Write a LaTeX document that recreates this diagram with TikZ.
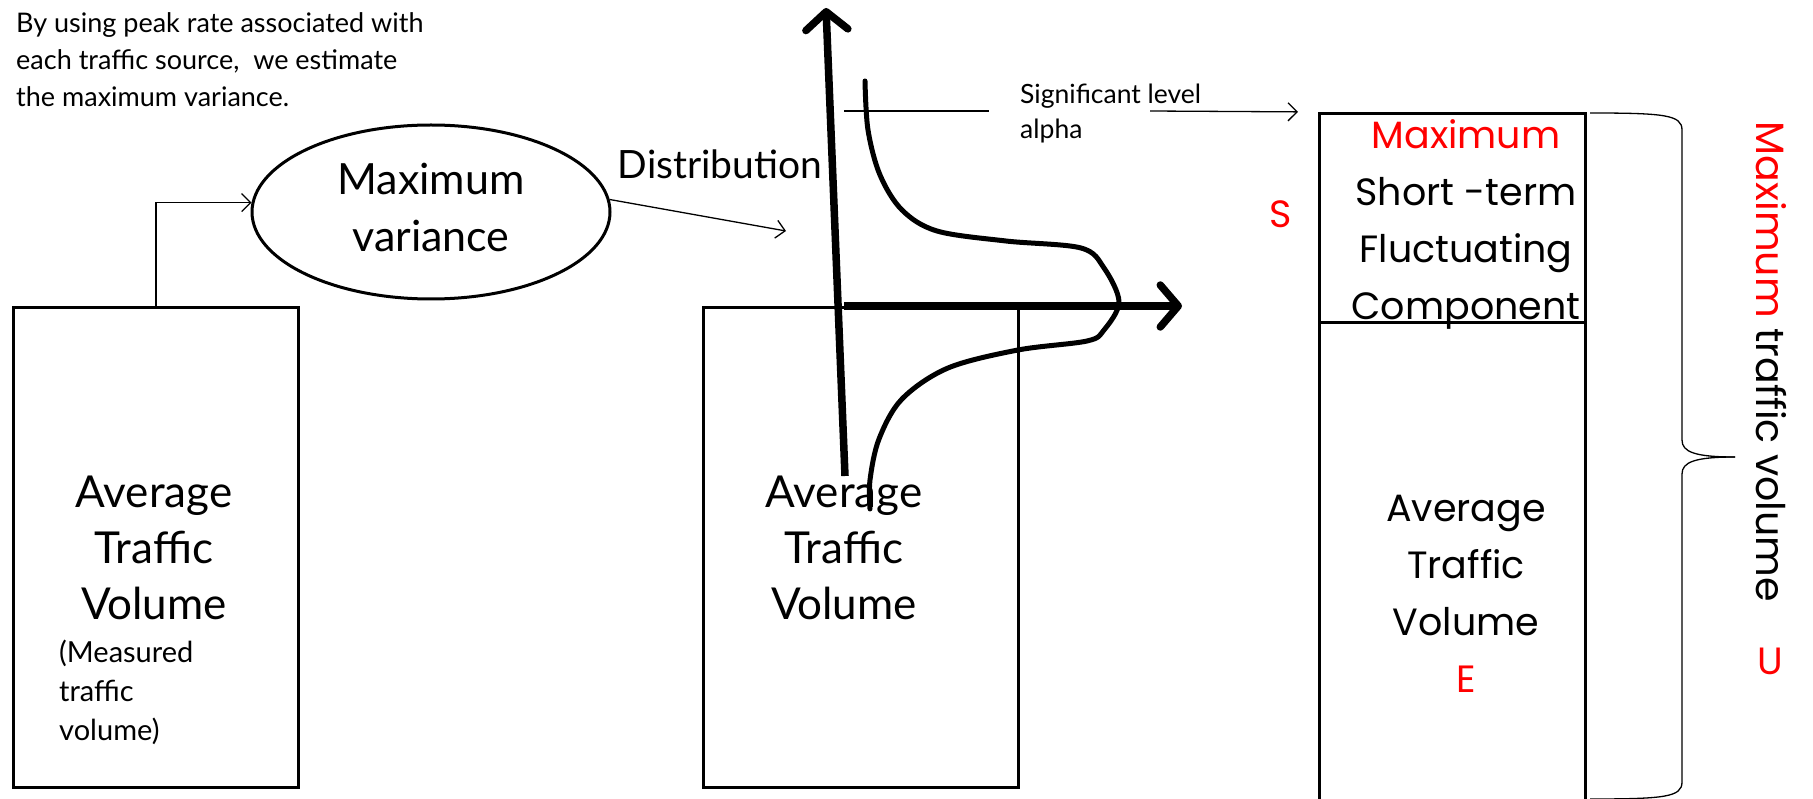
\documentclass[tikz,border=0pt]{standalone}
\usepackage{fontspec}
\setmainfont{Lato}
\newfontfamily\geofont{Poppins}
\usetikzlibrary{arrows.meta,shapes.geometric}
\definecolor{redtxt}{RGB}{255,0,0}
\tikzset{
  box/.style={draw, line width=3pt, anchor=north west, inner sep=0pt},
  bigtxt/.style={font=\fontsize{43}{57}\selectfont, align=center, inner sep=0pt},
  boxtxt/.style={font=\fontsize{44}{56}\selectfont, align=center, inner sep=0pt},
  disttxt/.style={font=\fontsize{39}{44}\selectfont, inner sep=0pt},
  notetxt/.style={font=\fontsize{27}{37}\selectfont, align=left, inner sep=0pt},
  sigtxt/.style={font=\fontsize{26.5}{35}\selectfont, align=left, inner sep=0pt},
  meastxt/.style={font=\fontsize{29}{39}\selectfont, align=left, inner sep=0pt},
  geotxt/.style={font=\geofont\fontsize{38}{57}\selectfont, align=center, inner sep=0pt},
  vtxt/.style={font=\geofont\fontsize{39.5}{57}\selectfont, inner sep=0pt},
  thinarrow/.style={line width=1.3pt, -{Straight Barb[length=9pt,width=18pt]}},
  thinline/.style={line width=1.3pt},
  axis/.style={line width=7.5pt, -{Straight Barb[length=18pt,width=42pt,round]}},
  curvestyle/.style={line width=5pt, line cap=round, line join=round},
}
\begin{document}
\begin{tikzpicture}[x=1pt,y=-1pt]
\useasboundingbox (0,0) rectangle (1813,799);
% top note
\node[notetxt, anchor=north west] (note) at (16,12) {By using peak rate associated with\\each traffic source,\ \ we estimate\\the maximum variance.};
% left box
\node[box, minimum width=285pt, minimum height=480pt] (avg1) at (12,306) {};
\node[boxtxt] (avg1t) at (154,548) {Average\\Traffic\\Volume};
\node[meastxt, anchor=north west] (meas) at (59,640) {(Measured\\traffic\\volume)};
% ellipse
\node[draw, ellipse, line width=3pt, minimum width=358pt, minimum height=174pt] (var) at (431,212) {};
\node[bigtxt] (vart) at (431,207) {Maximum\\variance};
\draw[thinarrow] (avg1.north) |- (var.177);
% distribution
\coordinate (distend) at (786,231);
\draw[thinarrow] (var.4) -- (distend);
\node[disttxt] (dist) at (720,164) {Distribution};
% middle box
\node[box, minimum width=315pt, minimum height=480pt] (avg2) at (702,306) {};
\node[boxtxt] (avg2t) at (844,548) {Average\\Traffic\\Volume};
% axes
\coordinate (vbot) at (845,476);
\coordinate (vtop) at (826,8);
\coordinate (horig) at (844,306);
\coordinate (hend) at (1182,306);
\draw[axis] (vbot) -- (vtop);
\draw[axis] (horig) -- (hend);
% distribution curve
\draw[curvestyle] plot[smooth, tension=0.55] coordinates {(865,81) (868,130) (880,175) (902,210) (937,231) (1006,241) (1081,248) (1104,268) (1119,302) (1104,330) (1087,341) (1018,350) (948,368) (902,399) (879,439) (870,480) (870,509)};
% significant level
\coordinate (sigA) at (844,111);
\coordinate (sigB) at (989,111);
\draw[thinline] (sigA) -- (sigB);
\node[sigtxt, anchor=north west] (sig) at (1020,84) {Significant level\\alpha};
\coordinate (sigC) at (1150,111);
% right boxes
\node[box, minimum width=266pt, minimum height=209pt] (fluct) at (1318,112) {};
\node[box, minimum width=266pt, minimum height=480pt] (avg3) at (1318,321) {};
\draw[thinarrow, shorten >=20pt] (sigC) -- (fluct.north west);
\node[geotxt] (fluctt) at (1466,224) {\textcolor{redtxt}{Maximum}\\Short -term\\Fluctuating\\Component};
\node[geotxt] (avg3t) at (1466,594) {Average\\Traffic\\Volume\\\textcolor{redtxt}{E}};
\node[geotxt, text=redtxt] (S) at (1281,214) {S};
% brace
\coordinate (brA) at (1590,113);
\coordinate (brTip) at (1735,457);
\coordinate (brB) at (1590,799);
\draw[thinline] (brA) .. controls (1665,113) and (1682,115) .. (1682,130) -- (1682,440) .. controls (1682,452) and (1695,457) .. (brTip);
\draw[thinline] (brTip) .. controls (1695,457) and (1682,462) .. (1682,474) -- (1682,782) .. controls (1682,797) and (1665,799) .. (brB);
% vertical label
\node[vtxt, rotate=-90] (maxvol) at (1771,362) {\textcolor{redtxt}{Maximum} traffic volume};
\node[geotxt, text=redtxt] (U) at (1770,661) {U};
\end{tikzpicture}
\end{document}
